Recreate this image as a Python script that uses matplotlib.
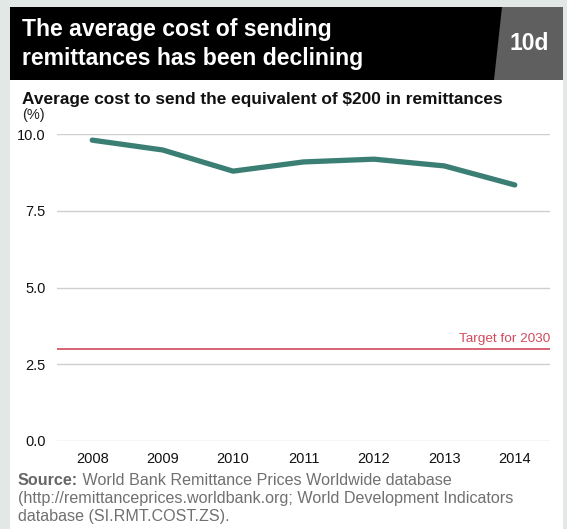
import matplotlib
matplotlib.use("Agg")
import matplotlib.pyplot as plt
from matplotlib.patches import Rectangle, Polygon

years = [2008, 2009, 2010, 2011, 2012, 2013, 2014]
avg_cost = [9.80, 9.48, 8.79, 9.09, 9.18, 8.96, 8.34]
target_2030 = 3.0
y_ticks = [0.0, 2.5, 5.0, 7.5, 10.0]
y_tick_labels = ["0.0", "2.5", "5.0", "7.5", "10.0"]

title_lines = "The average cost of sending\nremittances has been declining"
badge = "10d"
subtitle = "Average cost to send the equivalent of $200 in remittances"
unit = "(%)"
target_label = "Target for 2030"
source_bold = "Source:"
source_rest = [" World Bank Remittance Prices Worldwide database",
               "(http://remittanceprices.worldbank.org; World Development Indicators",
               "database (SI.RMT.COST.ZS)."]

W, H = 567, 529
plt.rcParams['font.family'] = ['Liberation Sans', 'DejaVu Sans']
fig = plt.figure(figsize=(W / 100, H / 100), dpi=100)
fig.patch.set_facecolor("#e1e8e5")


def fx(x):
    return x / W


def fy(y):
    return 1 - y / H


# white panel
fig.add_artist(Rectangle((fx(10), fy(529)), fx(553), 522 / H, transform=fig.transFigure,
                         facecolor="white", edgecolor="none", zorder=0))
# title box
fig.add_artist(Rectangle((fx(10), fy(80)), fx(495), 73 / H, transform=fig.transFigure,
                         facecolor="black", edgecolor="none", zorder=1))
fig.add_artist(Polygon([(fx(502), fy(7)), (fx(563), fy(7)), (fx(563), fy(80)), (fx(494), fy(80))],
                       closed=True, transform=fig.transFigure, facecolor="#5f5f5f",
                       edgecolor="none", zorder=2))
fig.text(fx(22), fy(44), title_lines, color="white", fontsize=16.6, fontweight="bold",
         va="center", ha="left", linespacing=1.3, zorder=3)
fig.text(fx(529), fy(44), badge, color="white", fontsize=16.5, fontweight="bold",
         va="center", ha="center", zorder=3)

fig.text(fx(22), fy(104), subtitle, fontsize=12.4, fontweight="bold", color="#111111",
         va="baseline", ha="left")
fig.text(fx(22), fy(119), unit, fontsize=10.5, color="#222222", va="baseline", ha="left")

ax = fig.add_axes([fx(57), fy(441), fx(493), 307 / H])
ax.set_facecolor("none")
ax.set_xlim(2007.5, 2014.5)
ax.set_ylim(0, 10)
ax.set_yticks(y_ticks)
ax.set_yticklabels(y_tick_labels)
ax.set_xticks(years)
ax.set_xticklabels([str(y) for y in years])
for s in ax.spines.values():
    s.set_visible(False)
ax.tick_params(axis="both", length=0, labelsize=10.5, colors="#111111")
ax.tick_params(axis="y", pad=8)
ax.tick_params(axis="x", pad=8)
ax.grid(axis="y", color="#cfcfcf", linewidth=1.0)
ax.set_axisbelow(True)

ax.axhline(target_2030, color="#d24a5c", linewidth=1.2, zorder=2)
ax.text(2014.5, target_2030 + 0.12, target_label, color="#d24a5c", fontsize=9.7,
        ha="right", va="bottom")
ax.plot(years, avg_cost, color="#3b7f74", linewidth=3.8, solid_capstyle="round",
        solid_joinstyle="round", clip_on=False, zorder=3)

# source
fig.canvas.draw()
r = fig.canvas.get_renderer()
t = fig.text(fx(18), fy(485), source_bold, fontsize=11.6, fontweight="bold", color="#666666",
             va="baseline", ha="left")
bb = t.get_window_extent(renderer=r)
fig.text(bb.x1 / W, fy(485), source_rest[0], fontsize=11.6, color="#707070",
         va="baseline", ha="left")
fig.text(fx(18), fy(503), source_rest[1], fontsize=11.6, color="#707070", va="baseline", ha="left")
fig.text(fx(18), fy(521), source_rest[2], fontsize=11.6, color="#707070", va="baseline", ha="left")

fig.savefig("out.png", dpi=100, facecolor=fig.get_facecolor())
